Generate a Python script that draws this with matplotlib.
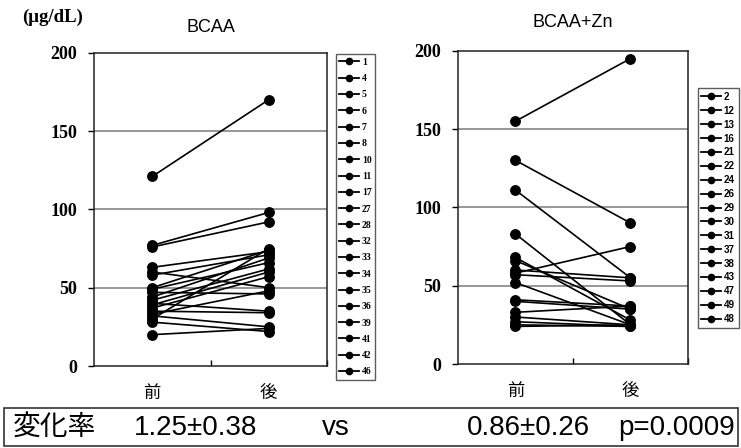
import matplotlib
matplotlib.use("Agg")
import matplotlib.pyplot as plt
from matplotlib.patches import Rectangle
from matplotlib.lines import Line2D

# ---- data ----
groups = ["前", "後"]
yticks = [0, 50, 100, 150, 200]

bcaa_ids = ["1", "4", "5", "6", "7", "8", "10", "11", "17", "27", "28", "32",
            "33", "34", "35", "36", "39", "41", "42", "46"]
bcaa_pre = [121, 77, 76, 63, 60, 58, 50, 49, 47, 44, 42, 40, 39, 37, 35, 33, 32, 30, 28, 20]
bcaa_post = [170, 98, 92, 73, 50, 71, 74, 66, 46, 69, 62, 35, 60, 57, 34, 48, 25, 75, 22, 24]

zn_ids = ["2", "12", "13", "16", "21", "22", "24", "26", "29", "30", "31", "37",
          "38", "43", "47", "49", "48"]
zn_pre = [155, 130, 111, 83, 68, 66, 58, 60, 57, 52, 41, 40, 33, 30, 27, 25, 24]
zn_post = [195, 90, 55, 25, 28, 35, 75, 55, 53, 25, 37, 35, 37, 25, 24, 24, 25]

titles = ["BCAA", "BCAA+Zn"]
unit_label = "(μg/dL)"
footer = ["変化率", "1.25±0.38", "vs", "0.86±0.26", "p=0.0009"]

W, H = 741, 448
fig = plt.figure(figsize=(W / 100, H / 100), dpi=100)

def fx(px):
    return px / W

def fy(py):
    return 1 - py / H

ax1 = fig.add_axes([fx(94), fy(366), fx(233), (366 - 52.7) / H])
ax2 = fig.add_axes([fx(458), fy(364), fx(230), (364 - 50.7) / H])

serif_bold = dict(family="Liberation Serif", weight="bold")
cjk = ["Noto Sans CJK JP", "DejaVu Sans"]

def draw(ax, ids, pre, post, title, title_pad, legend_font, legend_anchor, lfs, lspace):
    ax.set_xlim(0.5, 2.5)
    ax.set_ylim(0, 200)
    for y in yticks[1:-1]:
        ax.axhline(y, color="#7a7a7a", lw=1.1, zorder=1)
    for i, lab in enumerate(ids):
        ax.plot([1, 2], [pre[i], post[i]], color="black", lw=1.2,
                marker="o", markersize=6.8, zorder=3, label=lab)
    ax.set_yticks(yticks)
    ax.set_yticklabels([str(v) for v in yticks], fontsize=13, **serif_bold)
    ax.tick_params(axis="y", direction="out", length=4, width=1, pad=8)
    ax.set_xticks([1, 2])
    ax.set_xticklabels(groups, fontsize=12.5, family=cjk)
    ax.tick_params(axis="x", length=0, pad=13)
    ax.set_xticks([1.5, 2.5], minor=True)
    ax.tick_params(axis="x", which="minor", direction="in", length=4, width=1)
    for s in ax.spines.values():
        s.set_color("#222222")
        s.set_linewidth(1.1)
    ax.set_title(title, fontsize=13, family="Liberation Sans", pad=title_pad)
    lh = [Line2D([], [], color="black", lw=1.3, marker="o", markersize=4.5) for _ in ids]
    leg = fig.legend(lh, ids, loc="upper left", bbox_to_anchor=legend_anchor,
                     bbox_transform=fig.transFigure, frameon=True, fancybox=False,
                     edgecolor="#333333", handlelength=2.0, handletextpad=0.3,
                     labelspacing=lspace, borderpad=0.4, borderaxespad=0,
                     prop=dict(size=lfs, **legend_font))
    leg.get_frame().set_linewidth(1.0)
    return leg

draw(ax1, bcaa_ids, bcaa_pre, bcaa_post, titles[0], 15,
     dict(family="Liberation Serif", weight="bold"), (fx(335.5), fy(54)), 7, 0.75)
draw(ax2, zn_ids, zn_pre, zn_post, titles[1], 17,
     dict(family="Liberation Sans", weight="bold"), (fx(697.5), fy(88)), 7, 0.4)

fig.text(fx(22), fy(17), unit_label, ha="left", va="center", fontsize=13.5, **serif_bold)

# footer box
fig.patches.append(Rectangle((fx(4), fy(446)), fx(734), (446 - 408) / H,
                             transform=fig.transFigure, fill=False,
                             edgecolor="#333333", lw=1.2))
xs = [13, 134, 322, 467, 618]
for x, t in zip(xs, footer):
    fig.text(fx(x), fy(428), t, ha="left", va="center", fontsize=20,
             family=["Liberation Sans", "Noto Sans CJK JP"])

fig.savefig("out.png", dpi=100)
